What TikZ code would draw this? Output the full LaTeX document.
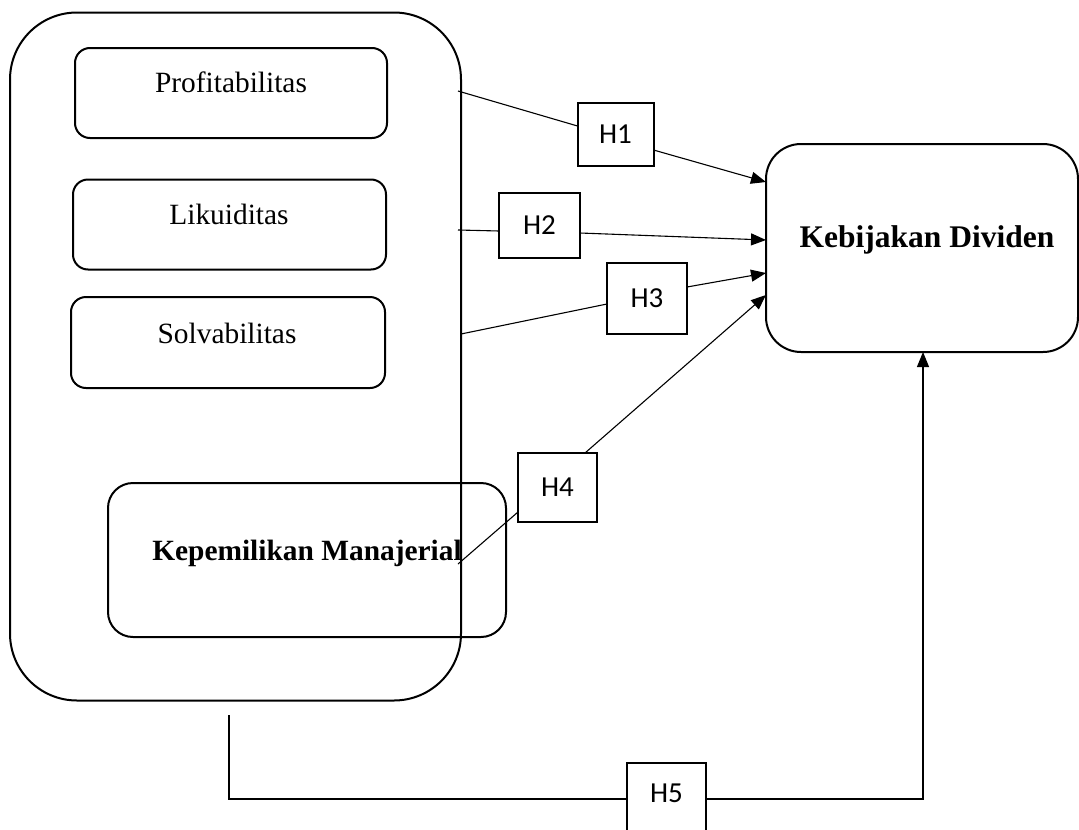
\documentclass[tikz,border=0pt]{standalone}
\usepackage{fontspec}
\setmainfont{Liberation Serif}
\newfontfamily\hfont{Carlito}
\usetikzlibrary{arrows.meta}
\begin{document}
\begin{tikzpicture}[x=1pt,y=-1pt,
  box/.style={draw,line width=2pt,rectangle,inner sep=0pt,outer sep=0pt},
  hbox/.style={draw,line width=2pt,rectangle,inner sep=0pt,outer sep=0pt,font=\hfont\fontsize{29}{30}\selectfont},
  lbl/.style={inner sep=0pt,anchor=base,font=\fontsize{29.4}{30}\selectfont},
  blbl/.style={inner sep=0pt,anchor=base,font=\bfseries\fontsize{29.4}{30}\selectfont},
  conn/.style={line width=1.1pt},
  arr/.style={line width=1.1pt,-{Triangle[length=15pt,width=12pt]}}]
\clip (0,0) rectangle (1079,830);
\fill[white] (0,0) rectangle (1079,830);
% big container
\node[box,rounded corners=67pt,minimum width=451pt,minimum height=688pt] (big) at (235.5,356.5) {};
% inner boxes
\node[box,rounded corners=15pt,minimum width=312pt,minimum height=90pt] (prof) at (231,93) {};
\node[lbl] (proft) at (231,92) {Profitabilitas};
\node[box,rounded corners=15pt,minimum width=313pt,minimum height=90pt] (lik) at (229.5,224.5) {};
\node[lbl] (likt) at (229,224) {Likuiditas};
\node[box,rounded corners=15pt,minimum width=314pt,minimum height=91pt] (sol) at (228,342.5) {};
\node[lbl] (solt) at (227,343) {Solvabilitas};
\node[box,rounded corners=25pt,minimum width=398pt,minimum height=154pt] (kep) at (307,560) {};
\node[blbl] (kept) at (307,560) {Kepemilikan Manajerial};
% target
\node[box,rounded corners=35pt,minimum width=312pt,minimum height=208pt] (keb) at (922,248) {};
\node[inner sep=0pt,anchor=base,font=\bfseries\fontsize{31.5}{32}\selectfont] (kebt) at (927,247) {Kebijakan Dividen};
% hypothesis boxes
\node[hbox,minimum width=76pt,minimum height=63pt] (H1) at (615.5,134.5) {H1};
\node[hbox,minimum width=81pt,minimum height=65pt] (H2) at (539.5,225.5) {H2};
\node[hbox,minimum width=80pt,minimum height=71pt] (H3) at (647,298.5) {H3};
\node[hbox,minimum width=79pt,minimum height=69pt] (H4) at (557.5,487.5) {H4};
\node[hbox,minimum width=79pt,minimum height=100pt,anchor=north] (H5) at (666.5,763) {};
\node[inner sep=0pt,font=\hfont\fontsize{29}{30}\selectfont] (H5t) at (666.5,793) {H5};
% start coordinates on container
\coordinate (s1) at (458,91);
\coordinate (s2) at (458,230);
\coordinate (s3) at (461,334);
\coordinate (s4) at (458,564);
\coordinate (s5) at (229,715);
\coordinate (c5) at (229,799);
\coordinate (d5) at (923,799);
% connectors
\draw[conn] (s1) -- ([yshift=8.5pt]H1.west);
\draw[arr] ([yshift=-15.5pt]H1.east) -- ([yshift=66pt]keb.west);
\draw[conn] (s2) -- ([yshift=-5.5pt]H2.west);
\draw[arr] ([yshift=-7.5pt]H2.east) -- ([yshift=8pt]keb.west);
\draw[conn] (s3) -- ([yshift=-5.5pt]H3.west);
\draw[arr] ([yshift=11.5pt]H3.east) -- ([yshift=-25pt]keb.west);
\draw[conn] (s4) -- ([yshift=10pt]H4.south west);
\draw[arr] ([xshift=27.5pt]H4.north) -- ([yshift=-47pt]keb.west);
\draw[conn] (s5) -- (c5) -- (c5 -| H5.west);
\draw[arr] (c5 -| H5.east) -- (d5) -- (d5 |- keb.south);
\end{tikzpicture}
\end{document}
